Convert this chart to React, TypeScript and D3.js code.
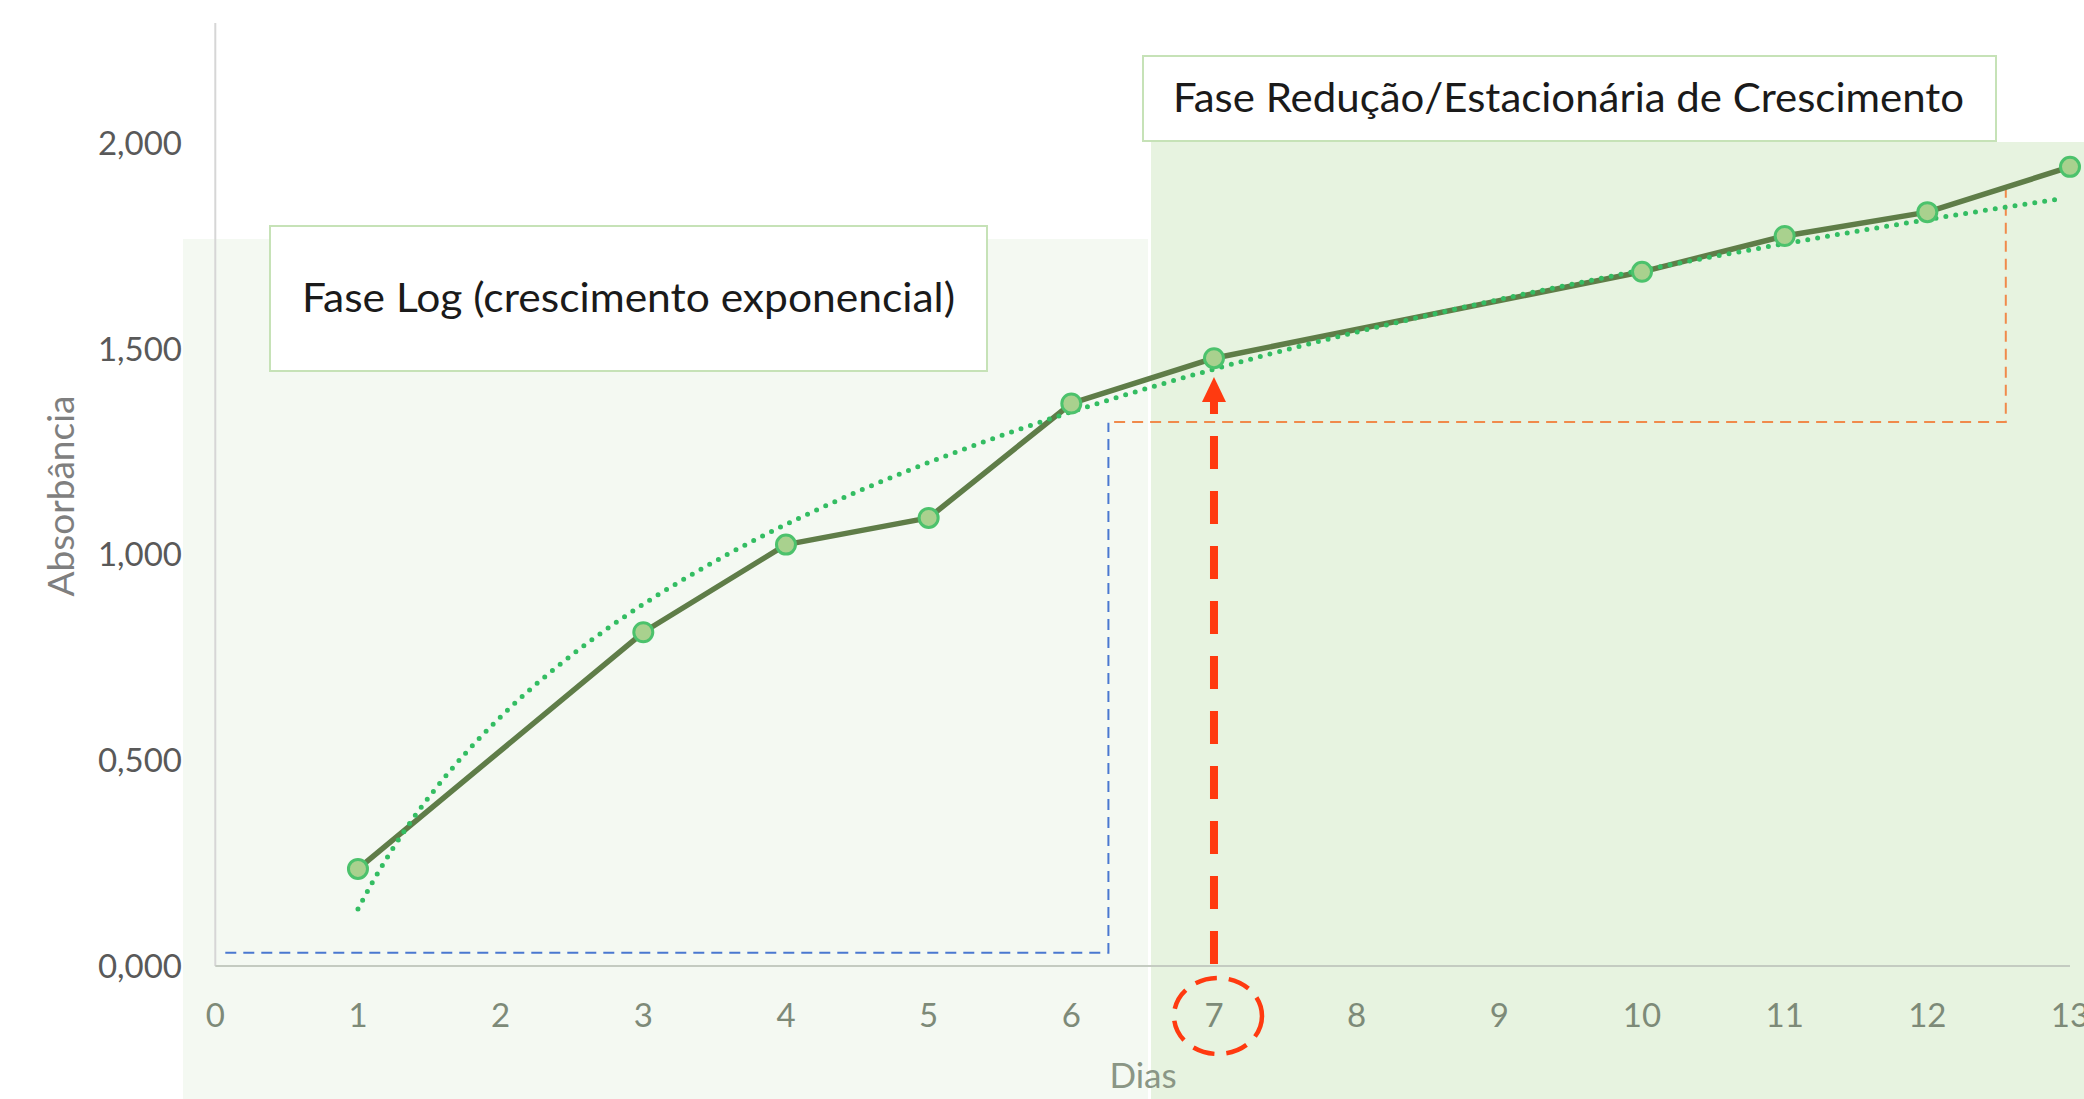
import React from "react";
import * as d3 from "d3";

const days = [1, 3, 4, 5, 6, 7, 10, 11, 12, 13];
const absorbance = [0.236, 0.811, 1.024, 1.089, 1.367, 1.477, 1.687, 1.774, 1.832, 1.942];
const xTicks = [0, 1, 2, 3, 4, 5, 6, 7, 8, 9, 10, 11, 12, 13];
const yTicks = [0, 0.5, 1, 1.5, 2];
const yTickLabels = ["0,000", "0,500", "1,000", "1,500", "2,000"];
const phaseLogLabel = "Fase Log (crescimento exponencial)";
const phaseStatLabel = "Fase Redução/Estacionária de Crescimento";
const highlightDay = 7;

// log trendline fitted (least squares) on the data
function logFit(xs: number[], ys: number[]) {
  const lx = xs.map((v) => Math.log(v));
  const mx = d3.mean(lx)!;
  const my = d3.mean(ys)!;
  let sxy = 0, sxx = 0;
  lx.forEach((v, i) => {
    sxy += (v - mx) * (ys[i] - my);
    sxx += (v - mx) * (v - mx);
  });
  const a = sxy / sxx;
  const b = my - a * mx;
  return (x: number) => a * Math.log(x) + b;
}

export default function App() {
  const W = 2084, H = 1099;
  const x = d3.scaleLinear().domain([0, 13]).range([215.3, 2070]);
  const y = d3.scaleLinear().domain([0, 2]).range([966, 143]);
  const fit = logFit(days, absorbance);
  const trendPts = d3.range(1, 12.96, 0.05).map((d) => [d, fit(d)] as [number, number]);
  const lineGen = d3.line<[number, number]>().x((d) => x(d[0])).y((d) => y(d[1]));
  const seriesPts = days.map((d, i) => [d, absorbance[i]] as [number, number]);

  const font = "Lato, 'Open Sans', sans-serif";
  const arrowX = x(highlightDay);
  const arrowTip = 377;

  return (
    <svg width={W} height={H} style={{ position: "absolute", left: 0, top: 0, display: "block", background: "#ffffff" }}>
      {/* backgrounds */}
      <rect x={183} y={239} width={1148 - 183} height={H - 239} fill="#f4f9f2" />
      <rect x={1151} y={142} width={W - 1151} height={H - 142} fill="#e7f3e0" />

      {/* axes */}
      <line x1={x(0)} x2={x(0)} y1={23} y2={y(0)} stroke="#d6d6d6" strokeWidth={2} />
      <line x1={x(0)} x2={x(13)} y1={y(0)} y2={y(0)} stroke="#c4cbc1" strokeWidth={2} />

      {yTicks.map((t, i) => (
        <text key={t} x={182} y={y(t)} dy="0.36em" textAnchor="end" fontFamily={font} fontSize={33} fill="#595959">
          {yTickLabels[i]}
        </text>
      ))}
      {xTicks.map((t) => (
        <text key={t} x={x(t)} y={1015} dy="0.36em" textAnchor="middle" fontFamily={font} fontSize={33} fill="#7d8a78">
          {t}
        </text>
      ))}
      <text transform={`translate(61,496) rotate(-90)`} textAnchor="middle" dy="0.36em" fontFamily={font} fontSize={37} fill="#7f7f7f">
        Absorbância
      </text>
      <text x={1143} y={1075} textAnchor="middle" dy="0.36em" fontFamily={font} fontSize={35} fill="#8a9685">
        Dias
      </text>

      {/* blue dashed guide */}
      <path
        d={`M${x(0.07)},${y(0.032)} H${x(6.26)} V${y(1.32)}`}
        fill="none" stroke="#4a78d0" strokeWidth={2} strokeDasharray="11 7"
      />
      {/* orange dashed guide */}
      <path
        d={`M${x(6.3)},${y(1.322)} H${x(12.55)} V${y(1.89)}`}
        fill="none" stroke="#f08a4b" strokeWidth={2} strokeDasharray="11 7"
      />

      {/* series */}
      <path d={lineGen(seriesPts) || ""} fill="none" stroke="#5f7d48" strokeWidth={5.5} strokeLinejoin="round" />
      <path d={lineGen(trendPts) || ""} fill="none" stroke="#33bd62" strokeWidth={5} strokeDasharray="0 10" strokeLinecap="round" />
      {seriesPts.map((p) => (
        <circle key={p[0]} cx={x(p[0])} cy={y(p[1])} r={9.5} fill="#a9d18e" stroke="#4cc26c" strokeWidth={3} />
      ))}

      {/* red arrow */}
      <line x1={arrowX} x2={arrowX} y1={y(0) - 2} y2={arrowTip + 22} stroke="#ff3a10" strokeWidth={8} strokeDasharray="33 22" />
      <path d={`M${arrowX},${arrowTip} L${arrowX + 12},${arrowTip + 25} L${arrowX - 12},${arrowTip + 25} Z`} fill="#ff3a10" />
      <ellipse cx={arrowX + 4} cy={1016} rx={44} ry={38} fill="none" stroke="#ff3a10" strokeWidth={4.5} strokeDasharray="22 12" />

      {/* annotation boxes */}
      <rect x={270} y={226} width={987 - 270} height={371 - 226} fill="#ffffff" stroke="#c6e2b7" strokeWidth={2} />
      <text x={302} y={298} dy="0.36em" fontFamily={font} fontSize={40} textLength={653} lengthAdjust="spacingAndGlyphs" fill="#1a1a1a">
        {phaseLogLabel}
      </text>
      <rect x={1143} y={56} width={1996 - 1143} height={141 - 56} fill="#ffffff" stroke="#c6e2b7" strokeWidth={2} />
      <text x={1173} y={98} dy="0.36em" fontFamily={font} fontSize={40} textLength={791} lengthAdjust="spacingAndGlyphs" fill="#1a1a1a">
        {phaseStatLabel}
      </text>
    </svg>
  );
}
